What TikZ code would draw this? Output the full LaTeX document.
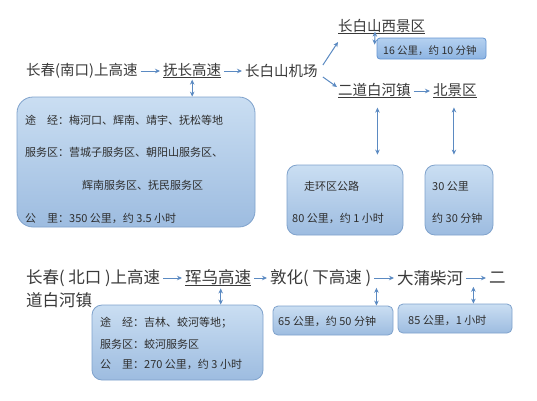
\documentclass[tikz,border=0pt]{standalone}
\usepackage{fontspec}
\setmainfont{Noto Sans CJK SC}
\usetikzlibrary{arrows.meta,calc}
\definecolor{txt}{HTML}{3A3A3A}
\definecolor{btxt}{HTML}{2E2E2E}
\definecolor{arrc}{HTML}{5B8AC2}
\definecolor{boxtop}{HTML}{CADEF2}
\definecolor{boxbot}{HTML}{9DBCE0}
\definecolor{boxline}{HTML}{7FA2CC}
\definecolor{darktop}{HTML}{B5D1F0}
\definecolor{darkbot}{HTML}{8DB4E2}
\definecolor{darkline}{HTML}{6495D2}
\newcommand\myul[1]{\setbox0\hbox{#1}\rlap{\rule[-2.6pt]{\wd0}{1.1pt}}\box0}
\begin{document}
\begin{tikzpicture}[x=1pt,y=-1pt,
  lbl/.style={anchor=west,inner xsep=3pt,inner ysep=1pt,text=txt,font=\fontsize{14.5}{16}\selectfont},
  lblb/.style={lbl,font=\fontsize{16.5}{18}\selectfont},
  btx/.style={anchor=west,inner sep=0pt,text=btxt,font=\fontsize{11}{12}\selectfont},
  stx/.style={btx,font=\fontsize{10.5}{12}\selectfont},
  infobox/.style={draw=boxline,line width=0.8pt,top color=boxtop,bottom color=boxbot,inner sep=0pt},
  darkbox/.style={draw=darkline,line width=0.8pt,top color=darktop,bottom color=darkbot,inner sep=0pt,rounded corners=3pt},
  arr/.style={draw=arrc,line width=1pt,-{Stealth[length=5pt,width=4.5pt]}},
  darr/.style={draw=arrc,line width=1pt,{Stealth[length=5pt,width=4.5pt]}-{Stealth[length=5pt,width=4.5pt]}}
]
\useasboundingbox (0,0) rectangle (537,400);
\fill[white] (0,0) rectangle (537,400);

% ---------- top route ----------
\node[lbl] (n1) at (23,71) {长春(南口)上高速};
\node[lbl] (n2) at (160,71) {\myul{抚长高速}};
\node[lbl] (n3) at (242,71) {长白山机场};
\node[lbl] (n4) at (335,27) {\myul{长白山西景区}};
\node[lbl] (n5) at (335,91) {\myul{二道白河镇}};
\node[lbl] (n6) at (430,91) {\myul{北景区}};

\draw[arr] (n1.east) -- (n2.west);
\draw[arr] (n2.east) -- (n3.west);
\draw[arr] ($(n3.east)+(2,-6)$) -- ($(n4.west)+(3,15)$);
\draw[arr] ($(n3.east)+(2,6)$) -- ($(n5.west)+(2,-4)$);
\draw[arr] (n5.east) -- (n6.west);

% boxes
\node[infobox,rounded corners=16pt,minimum width=238pt,minimum height=130pt] (box1) at (136,162) {};
\node[darkbox,minimum width=109pt,minimum height=21pt] (box16) at (431.5,48.5) {};
\node[infobox,rounded corners=10pt,minimum width=116pt,minimum height=70pt] (boxA) at (345,200) {};
\node[infobox,rounded corners=10pt,minimum width=68pt,minimum height=70pt] (boxB) at (459,200) {};

\node[btx] (t11) at (25,120) {途　经：梅河口、辉南、靖宇、抚松等地};
\node[btx] (t12) at (25,152) {服务区：营城子服务区、朝阳山服务区、};
\node[btx] (t13) at (82,185) {辉南服务区、抚民服务区};
\node[btx] (t14) at (25,218) {公　里：350 公里，约 3.5 小时};

\node[stx] (t16) at (383,51) {16 公里，约 10 分钟};
\node[btx] (tA1) at (304,186) {走环区公路};
\node[btx] (tA2) at (292,218) {80 公里，约 1 小时};
\node[btx] (tB1) at (432,186) {30 公里};
\node[btx] (tB2) at (432,218) {约 30 分钟};

\draw[darr] (n2.south) -- (n2.south |- box1.north);
\draw[darr] ($(n4.south west)+(40,-4)$) -- ($(box16.north west)+(-2,7)$);
\draw[darr] ($(n5.south)+(3,8)$) -- ($(n5.south |- boxA.north)+(3,-10)$);
\draw[darr] ($(n6.south)+(-1,8)$) -- ($(n6.south |- boxB.north)+(-1,-10)$);

% ---------- bottom route ----------
\node[lblb] (m1) at (23,278) {长春( 北口 )上高速};
\node[lblb] (m1b) at (23,300) {道白河镇};
\node[lblb] (m2) at (182,278) {\myul{珲乌高速}};
\node[lblb] (m3) at (267,278) {敦化( 下高速 )};
\node[lblb] (m4) at (394,278) {大蒲柴河};
\node[lblb] (m5) at (486,278) {二};

\draw[arr] (m1.east) -- (m2.west);
\draw[arr] (m2.east) -- (m3.west);
\draw[arr] (m3.east) -- (m4.west);
\draw[arr] (m4.east) -- (m5.west);

\node[infobox,rounded corners=10pt,minimum width=171pt,minimum height=75pt] (boxC) at (177.5,342.5) {};
\node[infobox,rounded corners=5pt,minimum width=120pt,minimum height=29pt] (boxD) at (333,320.5) {};
\node[infobox,rounded corners=5pt,minimum width=114pt,minimum height=29pt] (boxE) at (455,318.5) {};

\node[btx] (c1) at (100,323) {途　经：吉林、蛟河等地；};
\node[btx] (c2) at (100,344) {服务区：蛟河服务区};
\node[btx] (c3) at (100,364) {公　里：270 公里，约 3 小时};
\node[btx] (d1) at (278,321) {65 公里，约 50 分钟};
\node[btx] (e1) at (408,320) {85 公里，1 小时};

\draw[darr] ($(m2.south)+(2.5,1)$) -- ($(m2.south |- boxC.north)+(2.5,0)$);
\draw[darr] ($(m3.south east)+(2,0)$) -- ($(m3.south east |- boxD.north)+(2,0)$);
\draw[darr] ($(m4.south east)+(7,0)$) -- ($(m4.south east |- boxE.north)+(7,0)$);
\end{tikzpicture}
\end{document}
